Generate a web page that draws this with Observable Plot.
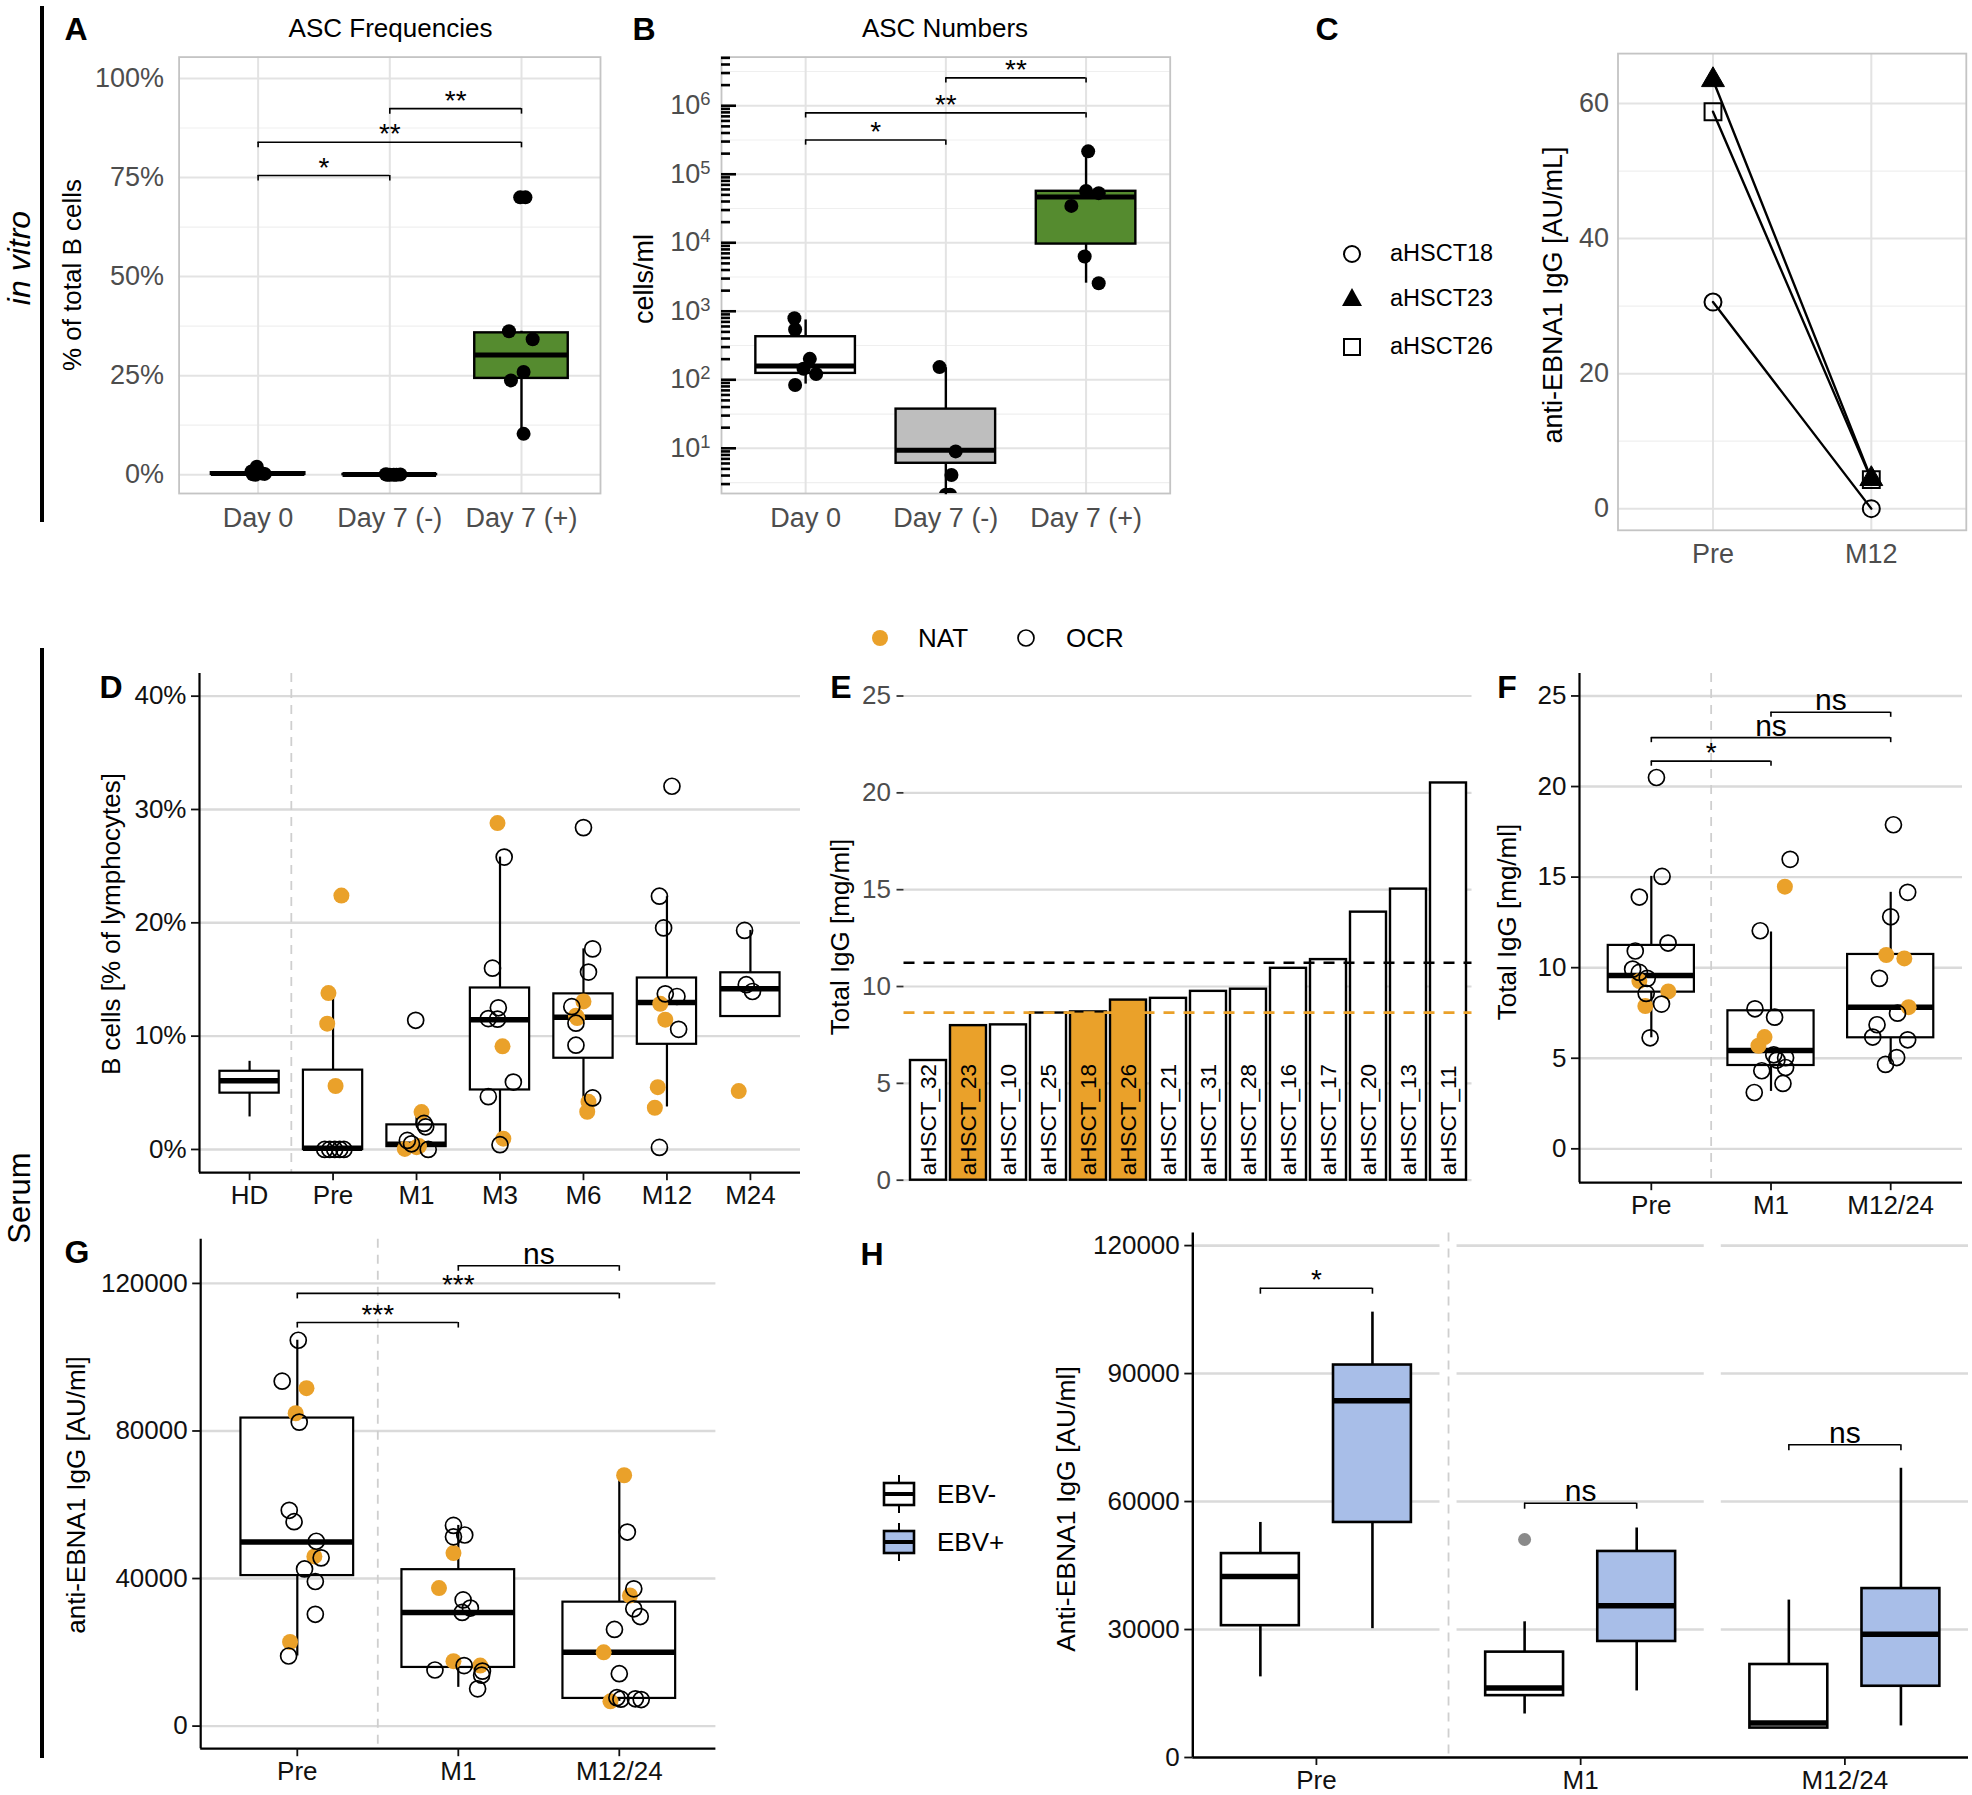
<!DOCTYPE html>
<html><head><meta charset="utf-8">
<script src="https://cdn.jsdelivr.net/npm/d3@7"></script>
<script src="https://cdn.jsdelivr.net/npm/@observablehq/plot@0.6"></script>
<style>
body{margin:0;background:#fff;}
#fig{position:relative;width:1972px;height:1795px;overflow:hidden;background:#fff;font-family:"Liberation Sans",Arial,Helvetica,sans-serif;}
.t{position:absolute;white-space:nowrap;line-height:1;}
</style></head><body><div id="fig"></div>
<script>
// ================= DATA =================
// A: ASC frequencies
const ascGroups = ["Day 0", "Day 7 (-)", "Day 7 (+)"];
const freqPoints = [ // [group, % of total B cells, jitter]
  [1, 2.0, -0.01], [1, 0.8, -0.05], [1, 0.3, 0.03], [1, 0.1, -0.04], [1, 0.0, -0.02], [1, 0.2, 0.05],
  [2, 0.1, -0.03], [2, 0.0, 0.0], [2, 0.0, 0.05], [2, 0.05, 0.08], [2, 0.0, -0.02], [2, 0.0, 0.03],
  [3, 70, -0.01], [3, 70, 0.03], [3, 36.2, -0.095], [3, 34.2, 0.085], [3, 25.9, 0.016], [3, 23.8, -0.08], [3, 10.3, 0.016]
];
const freqBoxes = [[0, 0.1, 0.3, 0.5, 0.8], [0, 0, 0.02, 0.05, 0.1], [10.3, 24.3, 30.2, 35.8, 36.2]]; // lo,q1,med,q3,hi
const freqSig = [[1, 2, 75.5, "*"], [1, 3, 83.9, "**"], [2, 3, 92.4, "**"]];

// B: ASC numbers (cells/ml)
const numPoints = [
  [1, 792, -0.08], [1, 541, -0.075], [1, 202, 0.03], [1, 145, -0.015], [1, 121, 0.075], [1, 84, -0.075],
  [2, 153, -0.045], [2, 9.0, 0.07], [2, 4.07, 0.04], [2, 2.1, 0.0], [2, 2.1, 0.03],
  [3, 216000, 0.015], [3, 57000, 0.0], [3, 53000, 0.09], [3, 34500, -0.105], [3, 6300, -0.01], [3, 2560, 0.09]
];
const numBoxes = [[86.5, 124, 159, 425, 747], [2.1, 6.04, 9.4, 37.3, 150], [2570, 9570, 46600, 56400, 216000]];
const numSig = [[1, 2, 316000, "*"], [1, 3, 787000, "**"], [2, 3, 2550000, "**"]];

// C: anti-EBNA1 IgG [AU/mL]
const ebnaPatients = ["aHSCT18", "aHSCT23", "aHSCT26"];
const ebnaTimes = ["Pre", "M12"];
const ebnaPre = [30.6, 63.5, 58.8];
const ebnaM12 = [0.0, 4.4, 4.3];

// D: B cells [% of lymphocytes]
const bGroups = ["HD", "Pre", "M1", "M3", "M6", "M12", "M24"];
const bPoints = [ // [group, value, cohort, jitter]
  [2,22.4,"NAT",0.10],[2,13.8,"NAT",-0.055],[2,11.1,"NAT",-0.07],[2,5.6,"NAT",0.03],[2,0,"OCR",-0.1],[2,0,"OCR",-0.04],[2,0,"OCR",0.02],[2,0,"OCR",0.08],[2,0,"OCR",0.13],
  [3,11.4,"OCR",-0.01],[3,3.3,"NAT",0.06],[3,2.3,"OCR",0.09],[3,2.0,"OCR",0.11],[3,0.8,"OCR",-0.11],[3,0.5,"OCR",-0.06],[3,0.3,"NAT",0.03],[3,0.05,"NAT",-0.14],[3,0.2,"NAT",0.0],[3,0.0,"OCR",0.14],
  [4,28.8,"NAT",-0.03],[4,25.8,"OCR",0.05],[4,16.0,"OCR",-0.09],[4,12.5,"OCR",-0.02],[4,11.55,"OCR",-0.14],[4,11.5,"OCR",-0.03],[4,9.1,"NAT",0.03],[4,5.95,"OCR",0.16],[4,4.66,"OCR",-0.14],[4,0.95,"NAT",0.04],[4,0.42,"OCR",0.0],
  [5,28.4,"OCR",0.0],[5,17.7,"OCR",0.11],[5,15.65,"OCR",0.06],[5,13.06,"NAT",0.0],[5,12.6,"OCR",-0.14],[5,11.8,"NAT",-0.09],[5,11.6,"NAT",-0.075],[5,11.14,"OCR",-0.09],[5,9.2,"OCR",-0.09],[5,4.55,"OCR",0.11],[5,4.2,"NAT",0.06],[5,3.33,"NAT",0.045],
  [6,32.05,"OCR",0.06],[6,22.35,"OCR",-0.09],[6,19.55,"OCR",-0.04],[6,13.73,"OCR",-0.02],[6,13.5,"OCR",0.12],[6,12.85,"NAT",-0.08],[6,11.45,"NAT",-0.02],[6,10.6,"OCR",0.14],[6,5.5,"NAT",-0.11],[6,3.68,"NAT",-0.145],[6,0.18,"OCR",-0.09],
  [7,19.33,"OCR",-0.07],[7,14.54,"OCR",-0.05],[7,13.94,"OCR",0.025],[7,5.15,"NAT",-0.14]
];
const bBoxes = [[2.87,4.97,6.06,6.9,7.78],[0,0,0.1,7.0,13.8],[0,0.25,0.45,2.17,3.3],[0.42,5.25,11.45,14.25,25.8],[3.33,8.05,11.66,13.73,17.7],[3.75,9.28,12.96,15.13,22.3],[11.73,11.73,14.19,15.59,19.33]];

// E: Total IgG per patient [mg/ml]
const iggPatients = ["aHSCT_32","aHSCT_23","aHSCT_10","aHSCT_25","aHSCT_18","aHSCT_26","aHSCT_21","aHSCT_31","aHSCT_28","aHSCT_16","aHSCT_17","aHSCT_20","aHSCT_13","aHSCT_11"];
const iggValues = [6.18, 7.98, 8.02, 8.63, 8.69, 9.30, 9.39, 9.75, 9.86, 10.94, 11.39, 13.84, 15.03, 20.51];
const iggCohort = ["OCR","NAT","OCR","OCR","NAT","NAT","OCR","OCR","OCR","OCR","OCR","OCR","OCR","OCR"];
const iggMeans = [["OCR", 11.23], ["NAT", 8.65]];

// F: Total IgG over time
const tGroups = ["Pre", "M1", "M12/24"];
const fPoints = [
  [1,20.5,"OCR",0.043],[1,15.04,"OCR",0.09],[1,13.9,"OCR",-0.1],[1,11.36,"OCR",0.14],[1,10.92,"OCR",-0.134],[1,9.92,"OCR",-0.156],[1,9.74,"OCR",-0.1],[1,9.41,"OCR",-0.034],[1,9.26,"NAT",-0.1],[1,8.58,"OCR",-0.043],[1,8.69,"NAT",0.142],[1,7.99,"OCR",0.085],[1,7.88,"NAT",-0.05],[1,6.13,"OCR",-0.01],
  [2,15.98,"OCR",0.16],[2,14.47,"NAT",0.116],[2,12.04,"OCR",-0.09],[2,7.73,"OCR",-0.134],[2,7.27,"OCR",0.03],[2,6.17,"NAT",-0.054],[2,5.69,"NAT",-0.105],[2,5.19,"OCR",0.023],[2,5.03,"OCR",0.122],[2,4.9,"OCR",0.05],[2,4.49,"OCR",0.122],[2,4.31,"OCR",-0.077],[2,3.61,"OCR",0.1],[2,3.11,"OCR",-0.14],
  [3,17.89,"OCR",0.023],[3,14.16,"OCR",0.142],[3,12.81,"OCR",0],[3,10.7,"NAT",-0.037],[3,10.51,"NAT",0.114],[3,9.41,"OCR",-0.094],[3,7.82,"NAT",0.15],[3,7.49,"OCR",0.057],[3,6.85,"OCR",-0.114],[3,6.17,"OCR",-0.15],[3,6.02,"OCR",0.142],[3,5.04,"OCR",0.05],[3,4.66,"OCR",-0.043]
];
const fBoxes = [[6.13,8.65,9.57,11.23,15.04],[3.17,4.6,5.43,7.62,11.97],[4.66,6.13,7.82,10.73,14.16]];
const fSig = [[1,2,21.4,"*"],[1,3,22.7,"ns"],[2,3,24.1,"ns"]];

// G: anti-EBNA1 IgG [AU/ml] over time
const gPoints = [
  [1,104600,"OCR",0.006],[1,93500,"OCR",-0.094],[1,91600,"NAT",0.057],[1,84800,"NAT",-0.01],[1,82400,"OCR",0.012],[1,58500,"OCR",-0.05],[1,55400,"OCR",-0.02],[1,50100,"OCR",0.118],[1,46000,"NAT",0.106],[1,45600,"OCR",0.148],[1,42600,"OCR",0.045],[1,39200,"OCR",0.112],[1,30300,"OCR",0.112],[1,22800,"NAT",-0.045],[1,19000,"OCR",-0.054],
  [2,54400,"OCR",-0.03],[2,51800,"OCR",0.04],[2,51300,"OCR",-0.03],[2,46900,"NAT",-0.03],[2,37400,"NAT",-0.12],[2,34200,"OCR",0.03],[2,32000,"OCR",0.075],[2,30800,"OCR",0.024],[2,17600,"NAT",-0.03],[2,16400,"OCR",0.036],[2,16400,"NAT",0.136],[2,15200,"OCR",-0.145],[2,14900,"OCR",0.15],[2,13800,"OCR",0.145],[2,10100,"OCR",0.12],
  [3,68000,"NAT",0.03],[3,52600,"OCR",0.05],[3,37200,"OCR",0.09],[3,35400,"NAT",0.066],[3,31800,"OCR",0.09],[3,29700,"OCR",0.13],[3,26200,"OCR",-0.03],[3,20000,"NAT",-0.097],[3,14200,"OCR",0],[3,7700,"OCR",-0.015],[3,7200,"OCR",0.136],[3,7400,"OCR",0.1],[3,6700,"NAT",-0.055],[3,7300,"OCR",0.01]
];
const gBoxes = [[19000,40800,49900,83500,104600],[10500,15900,30800,42400,54400],[6700,7500,20000,33600,68000]];
const gSig = [[1,2,109400,"***"],[1,3,117300,"***"],[2,3,124800,"ns"]];

// H: Anti-EBNA1 IgG by EBV status
const hGroups = ["EBV-", "EBV+"];
const hBoxes = [ // [timepoint, group, lo, q1, med, q3, hi]
  [0,0,18900,30900,42400,47800,55100],
  [0,1,30200,55100,83600,92000,104400],
  [1,0,10200,14500,16300,24700,31800],
  [1,1,15600,27200,35600,48300,53800],
  [2,0,6900,6900,8100,21800,36900],
  [2,1,7400,16700,28900,39600,67800]
];
const hOutliers = [[1, 0, 51100]];
const hSig = [[0, 110000, "*"], [1, 59600, "ns"], [2, 73300, "ns"]];

// ================= HELPERS =================
const FONT = '"Liberation Sans", Arial, Helvetica, sans-serif';
const ORANGE = "#EAA12A", GREEN = "#558B2F", BLUE = "#A8BEE8", GREYBOX = "#BEBEBE";
const fig = document.getElementById("fig");

function base(frame, box, extra, style) {
  return Object.assign({
    width: box[2] - box[0], height: box[3] - box[1],
    marginLeft: frame[0] - box[0], marginTop: frame[1] - box[1],
    marginRight: box[2] - frame[2], marginBottom: box[3] - frame[3],
    color: {type: "identity"},
    style: Object.assign({fontFamily: FONT, fontSize: "27px", color: "#4d4d4d", background: "transparent", overflow: "visible"}, style || {})
  }, extra);
}
function mount(svg, box) {
  svg.style.position = "absolute"; svg.style.left = box[0] + "px"; svg.style.top = box[1] + "px";
  svg.style.maxWidth = "none";
  fig.appendChild(svg);
}
function boxes(stats, xs, w, fills, sw, mw) {
  const rows = stats.map((s, i) => ({x: xs[i], lo: s[0], q1: s[1], med: s[2], q3: s[3], hi: s[4], fill: fills[i]}));
  return [
    Plot.ruleX(rows, {x: "x", y1: "lo", y2: "q1", stroke: "black", strokeWidth: sw}),
    Plot.ruleX(rows, {x: "x", y1: "q3", y2: "hi", stroke: "black", strokeWidth: sw}),
    Plot.rect(rows, {x1: d => d.x - w / 2, x2: d => d.x + w / 2, y1: "q1", y2: "q3", fill: "fill", stroke: "black", strokeWidth: sw}),
    Plot.ruleY(rows, {y: "med", x1: d => d.x - w / 2, x2: d => d.x + w / 2, stroke: "black", strokeWidth: mw})
  ];
}
function brackets(rows, tip, sw) {
  const R = rows.map(([a, b, y, label]) => ({a, b, y, label, yt: tip(y)}));
  const st = {stroke: "black", strokeWidth: sw || 1.6};
  return [
    Plot.ruleY(R, {y: "y", x1: "a", x2: "b", ...st}),
    Plot.ruleX(R, {x: "a", y1: "y", y2: "yt", ...st}),
    Plot.ruleX(R, {x: "b", y1: "y", y2: "yt", ...st}),
    Plot.text(R.filter(d => d.label.includes("*")), {x: d => (d.a + d.b) / 2, y: "y", text: "label", lineAnchor: "bottom", dy: 1, fill: "black", fontSize: 28}),
    Plot.text(R.filter(d => !d.label.includes("*")), {x: d => (d.a + d.b) / 2, y: "y", text: "label", lineAnchor: "bottom", dy: -2, fill: "black", fontSize: 30})
  ];
}
function jitterDots(points, r) {
  return [
    Plot.dot(points.filter(d => d[2] === "NAT"), {x: d => d[0] + d[3], y: d => d[1], r, fill: ORANGE}),
    Plot.dot(points.filter(d => d[2] === "OCR"), {x: d => d[0] + d[3], y: d => d[1], r, fill: "none", stroke: "black", strokeWidth: 1.7})
  ];
}
function text(s, x, y, o = {}) {
  const d = document.createElement("div");
  d.className = "t"; d.textContent = s;
  d.style.left = x + "px"; d.style.top = y + "px";
  d.style.fontSize = (o.size || 26) + "px";
  if (o.bold) d.style.fontWeight = "bold";
  if (o.italic) d.style.fontStyle = "italic";
  d.style.color = o.color || "black";
  const tr = o.left ? "translate(0,-50%)" : "translate(-50%,-50%)";
  d.style.transform = tr + (o.rot ? " rotate(-90deg)" : "");
  fig.appendChild(d);
}
function svgEl(html, x, y, w, h) {
  const d = document.createElement("div");
  d.style.position = "absolute"; d.style.left = (x - w / 2) + "px"; d.style.top = (y - h / 2) + "px";
  d.innerHTML = `<svg width="${w}" height="${h}" viewBox="0 0 ${w} ${h}">${html}</svg>`;
  fig.appendChild(d);
}
const range = n => Array.from({length: n}, (_, i) => i + 1);

// ================= PANEL A =================
{
  const frame = [178.6, 56.6, 600, 493], box = [90, 45, 615, 545];
  const p = Plot.plot(base(frame, box, {
    x: {type: "linear", domain: [0.4, 3.6]},
    y: {domain: [-4.75, 105.4]},
    marks: [
      Plot.ruleY([12.5, 37.5, 62.5, 87.5], {stroke: "#efefef", strokeWidth: 1.2}),
      Plot.ruleY([0, 25, 50, 75, 100], {stroke: "#e3e3e3", strokeWidth: 2}),
      Plot.ruleX([1, 2, 3], {stroke: "#e3e3e3", strokeWidth: 2}),
      Plot.frame({stroke: "#c4c4c4", strokeWidth: 1.8}),
      ...boxes(freqBoxes, [1, 2, 3], 0.71, ["white", GREYBOX, GREEN], 2.4, 5),
      Plot.dot(freqPoints, {x: d => d[0] + d[2], y: d => d[1], r: 7, fill: "black"}),
      ...brackets(freqSig, y => y - 1.4),
      Plot.axisY({ticks: [0, 25, 50, 75, 100], tickFormat: d => d + "%", tickSize: 0, tickPadding: 15, label: null}),
      Plot.axisX({ticks: [1, 2, 3], tickFormat: i => ascGroups[i - 1], tickSize: 0, tickPadding: 14, label: null})
    ]
  }));
  mount(p, box);
}

// ================= PANEL B =================
{
  const frame = [721, 56.6, 1169.7, 493], box = [640, 45, 1185, 545];
  const fw = frame[2] - frame[0], unit = 3.2 / fw;
  const logTicks = [];
  for (let k = 0; k <= 6; k++) for (let m = 1; m <= 9; m++) {
    const v = m * Math.pow(10, k);
    if (v > Math.pow(10, 0.34) && v < Math.pow(10, 6.71)) logTicks.push({v, m});
  }
  const p = Plot.plot(base(frame, box, {
    x: {type: "linear", domain: [0.4, 3.6]},
    y: {type: "log", domain: [Math.pow(10, 0.34), Math.pow(10, 6.71)]},
    marks: [
      Plot.ruleY([0.5, 1.5, 2.5, 3.5, 4.5, 5.5, 6.5].map(e => Math.pow(10, e)), {stroke: "#efefef", strokeWidth: 1.2}),
      Plot.ruleY([1, 2, 3, 4, 5, 6].map(e => Math.pow(10, e)), {stroke: "#e3e3e3", strokeWidth: 2}),
      Plot.ruleX([1, 2, 3], {stroke: "#e3e3e3", strokeWidth: 2}),
      Plot.frame({stroke: "#c4c4c4", strokeWidth: 1.8}),
      Plot.ruleY(logTicks, {y: "v", x1: 0.4, x2: d => 0.4 + (d.m === 1 ? 15 : 9) * unit, stroke: "black", strokeWidth: 2.6}),
      ...boxes(numBoxes, [1, 2, 3], 0.71, ["white", GREYBOX, GREEN], 2.4, 5),
      Plot.dot(numPoints, {x: d => d[0] + d[2], y: d => d[1], r: 7, fill: "black", clip: true}),
      ...brackets(numSig, y => y / Math.pow(10, 0.075)),
      Plot.axisY({ticks: [10, 100, 1000, 1e4, 1e5, 1e6], tickFormat: d => "10^" + Math.round(Math.log10(d)), tickSize: 0, tickPadding: 11, label: null}),
      Plot.axisX({ticks: [1, 2, 3], tickFormat: i => ascGroups[i - 1], tickSize: 0, tickPadding: 14, label: null})
    ]
  }));
  p.querySelectorAll("text").forEach(t => {
    const m = /^10\^(\d)$/.exec(t.textContent);
    if (m) t.innerHTML = `10<tspan dy="-0.5em" font-size="0.68em">${m[1]}</tspan>`;
  });
  mount(p, box);
}

// ================= PANEL C =================
{
  const frame = [1617.5, 53.1, 1965.8, 529.8], box = [1570, 40, 1972, 580];
  const rows = [];
  ebnaPatients.forEach((id, i) => { rows.push({id, t: 1, v: ebnaPre[i]}); rows.push({id, t: 2, v: ebnaM12[i]}); });
  const p = Plot.plot(base(frame, box, {
    x: {type: "linear", domain: [0.4, 2.6]},
    y: {domain: [-3.21, 67.41]},
    marks: [
      Plot.ruleY([10, 30, 50], {stroke: "#efefef", strokeWidth: 1.2}),
      Plot.ruleY([0, 20, 40, 60], {stroke: "#e3e3e3", strokeWidth: 2}),
      Plot.ruleX([1, 2], {stroke: "#e3e3e3", strokeWidth: 2}),
      Plot.frame({stroke: "#c4c4c4", strokeWidth: 1.8}),
      Plot.line(rows, {x: "t", y: "v", z: "id", stroke: "black", strokeWidth: 2.4}),
      Plot.dot(rows.filter(d => d.id === ebnaPatients[0]), {x: "t", y: "v", symbol: "circle", r: 8.5, fill: "none", stroke: "black", strokeWidth: 2}),
      Plot.dot(rows.filter(d => d.id === ebnaPatients[1]), {x: "t", y: "v", symbol: "triangle", r: 8.5, fill: "black", stroke: "black", strokeWidth: 1}),
      Plot.dot(rows.filter(d => d.id === ebnaPatients[2]), {x: "t", y: "v", symbol: "square", r: 9.5, fill: "none", stroke: "black", strokeWidth: 2}),
      Plot.axisY({ticks: [0, 20, 40, 60], tickSize: 0, tickPadding: 9, label: null}),
      Plot.axisX({ticks: [1, 2], tickFormat: i => ebnaTimes[i - 1], tickSize: 0, tickPadding: 14, label: null})
    ]
  }));
  mount(p, box);
}

// ================= PANEL D =================
{
  const frame = [199, 673, 800, 1172.2], box = [120, 660, 815, 1225];
  const p = Plot.plot(base(frame, box, {
    x: {type: "linear", domain: [0.4, 7.6]},
    y: {domain: [-2.05, 42.0]},
    marks: [
      Plot.ruleY([0, 10, 20, 30, 40], {stroke: "#dadada", strokeWidth: 2.4}),
      Plot.ruleX([1.5], {stroke: "#cfcfcf", strokeWidth: 1.8, strokeDasharray: "9,7"}),
      ...boxes(bBoxes, range(7), 0.71, bGroups.map(() => "white"), 2.2, 5.5),
      ...jitterDots(bPoints, 8),
      Plot.ruleX([0.4], {stroke: "black", strokeWidth: 2.2}),
      Plot.ruleY([-2.05], {stroke: "black", strokeWidth: 2.2}),
      Plot.axisY({ticks: [0, 10, 20, 30, 40], tickFormat: d => d + "%", tickSize: 8, tickPadding: 5, strokeWidth: 1.8, label: null}),
      Plot.axisX({ticks: range(7), tickFormat: i => bGroups[i - 1], tickSize: 8, tickPadding: 5, strokeWidth: 1.8, label: null})
    ]
  }, {fontSize: "26px", color: "#111"}));
  mount(p, box);
}

// ================= PANEL E =================
{
  const frame = [903.5, 671.3, 1471.5, 1203.9], box = [850, 660, 1480, 1215];
  const rows = iggPatients.map((p, i) => ({p, v: iggValues[i], c: iggCohort[i]}));
  const p = Plot.plot(base(frame, box, {
    x: {type: "band", domain: iggPatients, paddingInner: 0.1, paddingOuter: 0.15, axis: null},
    y: {domain: [-1.25, 26.25]},
    marks: [
      Plot.ruleY([0, 5, 10, 15, 20, 25], {stroke: "#dadada", strokeWidth: 2.2}),
      Plot.barY(rows, {x: "p", y: "v", fill: d => d.c === "NAT" ? ORANGE : "white", stroke: "black", strokeWidth: 2.4}),
      Plot.text(rows, {x: "p", y: 0, text: "p", rotate: -90, textAnchor: "start", dy: -5, fontSize: 22.5, fill: "black"}),
      Plot.ruleY(iggMeans.filter(d => d[0] === "OCR"), {y: d => d[1], stroke: "black", strokeWidth: 2.6, strokeDasharray: "11,9"}),
      Plot.ruleY(iggMeans.filter(d => d[0] === "NAT"), {y: d => d[1], stroke: ORANGE, strokeWidth: 2.6, strokeDasharray: "11,9"}),
      Plot.axisY({ticks: [0, 5, 10, 15, 20, 25], tickSize: 7, tickPadding: 6, stroke: "#333", strokeWidth: 1.8, label: null})
    ]
  }, {fontSize: "26px"}));
  mount(p, box);
}

// ================= PANEL F =================
{
  const frame = [1579, 673, 1962, 1182.2], box = [1520, 660, 1972, 1225];
  const p = Plot.plot(base(frame, box, {
    x: {type: "linear", domain: [0.4, 3.6]},
    y: {domain: [-1.87, 26.24]},
    marks: [
      Plot.ruleY([0, 5, 10, 15, 20, 25], {stroke: "#dadada", strokeWidth: 2.4}),
      Plot.ruleX([1.5], {stroke: "#cfcfcf", strokeWidth: 1.8, strokeDasharray: "9,7"}),
      ...boxes(fBoxes, range(3), 0.72, tGroups.map(() => "white"), 2.2, 5.5),
      ...jitterDots(fPoints, 8),
      ...brackets(fSig, y => y - 0.28),
      Plot.ruleX([0.4], {stroke: "black", strokeWidth: 2.2}),
      Plot.ruleY([-1.87], {stroke: "black", strokeWidth: 2.2}),
      Plot.axisY({ticks: [0, 5, 10, 15, 20, 25], tickSize: 8, tickPadding: 5, strokeWidth: 1.8, label: null}),
      Plot.axisX({ticks: range(3), tickFormat: i => tGroups[i - 1], tickSize: 8, tickPadding: 5, strokeWidth: 1.8, label: null})
    ]
  }, {fontSize: "26px", color: "#111"}));
  mount(p, box);
}

// ================= PANEL G =================
{
  const frame = [200.2, 1238.8, 715.4, 1748.2], box = [90, 1225, 730, 1795];
  const p = Plot.plot(base(frame, box, {
    x: {type: "linear", domain: [0.4, 3.6]},
    y: {domain: [-6130, 131960]},
    marks: [
      Plot.ruleY([0, 40000, 80000, 120000], {stroke: "#dadada", strokeWidth: 2.4}),
      Plot.ruleX([1.5], {stroke: "#cfcfcf", strokeWidth: 1.8, strokeDasharray: "9,7"}),
      ...boxes(gBoxes, range(3), 0.70, tGroups.map(() => "white"), 2.2, 5.5),
      ...jitterDots(gPoints, 8),
      ...brackets(gSig, y => y - 1500),
      Plot.ruleX([0.4], {stroke: "black", strokeWidth: 2.2}),
      Plot.ruleY([-6130], {stroke: "black", strokeWidth: 2.2}),
      Plot.axisY({ticks: [0, 40000, 80000, 120000], tickFormat: d3.format("d"), tickSize: 8, tickPadding: 5, strokeWidth: 1.8, label: null}),
      Plot.axisX({ticks: range(3), tickFormat: i => tGroups[i - 1], tickSize: 8, tickPadding: 5, strokeWidth: 1.8, label: null})
    ]
  }, {fontSize: "26px", color: "#111"}));
  mount(p, box);
}

// ================= PANEL H =================
{
  const frame = [1192.3, 1232.5, 1968, 1757], box = [1080, 1220, 1972, 1795];
  const step = 1.2826, dodge = 0.272, bw = 0.378;
  const centers = tGroups.map((_, i) => i * step);
  const grid = [];
  centers.forEach(c => [30000, 60000, 90000, 120000].forEach(v => grid.push({c, v})));
  const xs = hBoxes.map(b => centers[b[0]] + (b[1] === 0 ? -dodge : dodge));
  const stats = hBoxes.map(b => b.slice(2));
  const fills = hBoxes.map(b => b[1] === 0 ? "white" : BLUE);
  const sig = hSig.map(([f, y, l]) => [centers[f] - dodge, centers[f] + dodge, y, l]);
  const p = Plot.plot(base(frame, box, {
    x: {type: "linear", domain: [-0.6, 2 * step + 0.6]},
    y: {domain: [0, 122950]},
    marks: [
      Plot.ruleY(grid, {y: "v", x1: d => d.c - 0.6, x2: d => d.c + 0.6, stroke: "#dadada", strokeWidth: 2.6}),
      Plot.ruleX([(centers[0] + centers[1]) / 2], {stroke: "#cfcfcf", strokeWidth: 1.8, strokeDasharray: "9,7"}),
      ...boxes(stats, xs, bw, fills, 2.6, 5.5),
      Plot.dot(hOutliers, {x: d => centers[d[0]] + (d[1] === 0 ? -dodge : dodge), y: d => d[2], r: 6.5, fill: "#8a8a8a"}),
      ...brackets(sig, y => y - 1400),
      Plot.ruleX([-0.6], {stroke: "black", strokeWidth: 2.4}),
      Plot.ruleY([0], {stroke: "black", strokeWidth: 2.4}),
      Plot.axisY({ticks: [0, 30000, 60000, 90000, 120000], tickFormat: d3.format("d"), tickSize: 8, tickPadding: 5, strokeWidth: 1.8, label: null}),
      Plot.axisX({ticks: centers, tickFormat: (d, i) => tGroups[i], tickSize: 8, tickPadding: 5, strokeWidth: 1.8, label: null})
    ]
  }, {fontSize: "26px", color: "#111"}));
  mount(p, box);
}

// ================= TEXT, LEGENDS, SECTION BARS =================
[[6, 522], [648, 1758]].forEach(([a, b]) => {
  const d = document.createElement("div");
  d.style.cssText = `position:absolute;left:40px;top:${a}px;width:3.5px;height:${b - a}px;background:#000;`;
  fig.appendChild(d);
});
text("in vitro", 19, 258, {size: 32, italic: true, rot: true});
text("Serum", 19, 1198, {size: 31, rot: true});

// panel letters
[["A", 76, 29], ["B", 644, 29], ["C", 1327, 29], ["D", 111, 687], ["E", 841, 687], ["F", 1507, 687], ["G", 77, 1252], ["H", 872, 1254]]
  .forEach(([s, x, y]) => text(s, x, y, {size: 32, bold: true}));

// titles
text("ASC Frequencies", 390.5, 28, {size: 26});
text("ASC Numbers", 945, 28, {size: 26});

// axis titles
text("% of total B cells", 72, 275, {size: 26, rot: true});
text("cells/ml", 644, 279, {size: 27, rot: true});
text("anti-EBNA1 IgG [AU/mL]", 1553, 295, {size: 27, rot: true});
text("B cells [% of lymphocytes]", 111, 924, {size: 26, rot: true});
text("Total IgG [mg/ml]", 840, 937, {size: 26, rot: true});
text("Total IgG [mg/ml]", 1507, 922, {size: 26, rot: true});
text("anti-EBNA1 IgG [AU/ml]", 76, 1495, {size: 26, rot: true});
text("Anti-EBNA1 IgG [AU/ml]", 1066, 1509, {size: 26.5, rot: true});

// C legend
svgEl(`<circle cx="12" cy="12" r="8" fill="none" stroke="black" stroke-width="2"/>`, 1352, 254, 24, 24);
svgEl(`<path d="M12,2 L22,20 L2,20 Z" fill="black"/>`, 1352, 298, 24, 24);
svgEl(`<rect x="4" y="4" width="16" height="16" fill="none" stroke="black" stroke-width="2"/>`, 1352, 347, 24, 24);
ebnaPatients.forEach((s, i) => text(s, 1390, [254, 299, 347][i], {size: 23.5, left: true}));

// NAT / OCR legend
svgEl(`<circle cx="12" cy="12" r="8" fill="${ORANGE}"/>`, 880, 638, 24, 24);
text("NAT", 918, 638, {size: 26, left: true});
svgEl(`<circle cx="12" cy="12" r="8" fill="none" stroke="black" stroke-width="1.7"/>`, 1026, 638, 24, 24);
text("OCR", 1066, 638, {size: 26, left: true});

// H legend
const key = fill => `<line x1="20" y1="1" x2="20" y2="39" stroke="black" stroke-width="2"/><rect x="5" y="9" width="30" height="22" fill="${fill}" stroke="black" stroke-width="2.6"/><line x1="5" x2="35" y1="20" y2="20" stroke="black" stroke-width="4"/>`;
svgEl(key("white"), 899, 1494, 40, 40);
svgEl(key(BLUE), 899, 1542, 40, 40);
text(hGroups[0], 937, 1494, {size: 26, left: true});
text(hGroups[1], 937, 1542, {size: 26, left: true});
</script></body></html>
